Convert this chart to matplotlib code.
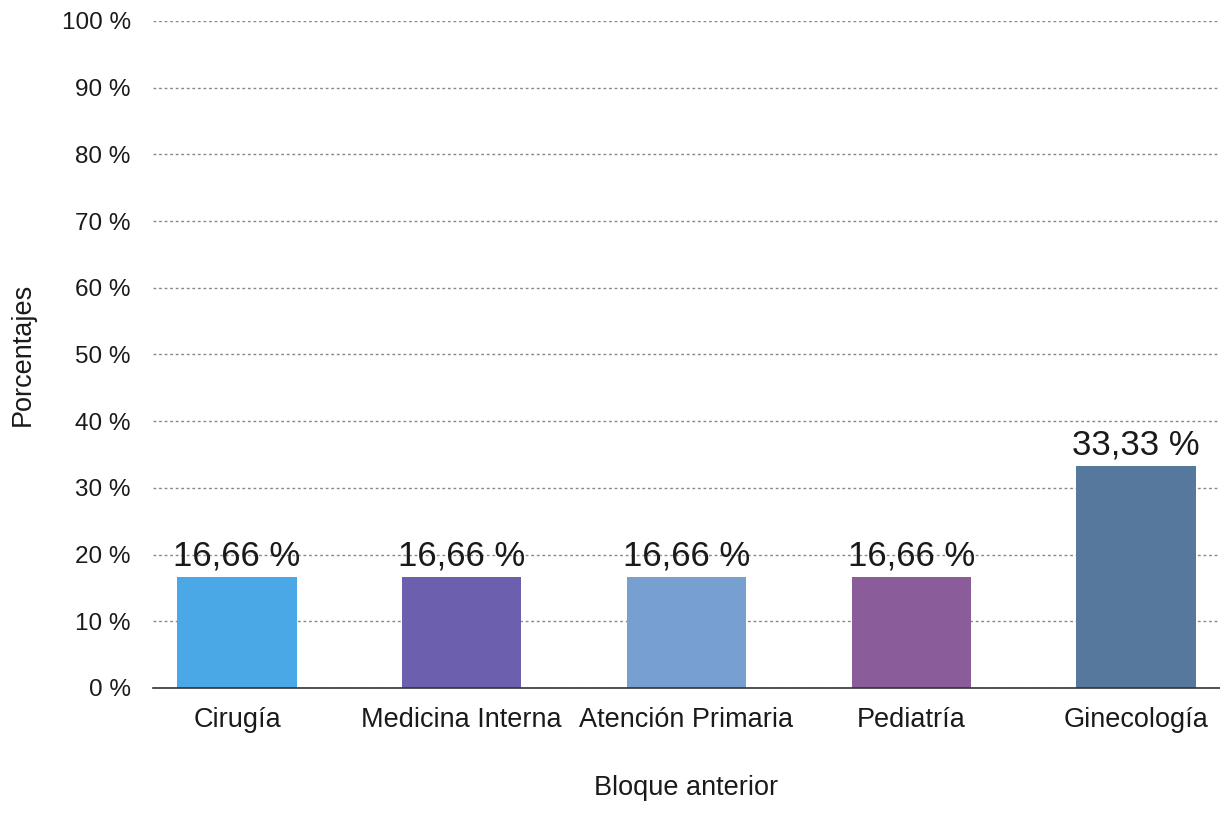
import matplotlib

matplotlib.use("Agg")

import matplotlib.pyplot as plt

categories = ["Cirugía", "Medicina Interna", "Atención Primaria", "Pediatría", "Ginecología"]
values = [16.66, 16.66, 16.66, 16.66, 33.33]
value_labels = ["16,66 %", "16,66 %", "16,66 %", "16,66 %", "33,33 %"]
colors = ["#4aa8e6", "#6c5fad", "#77a0d0", "#8a5c9a", "#55789c"]
yticks = list(range(0, 101, 10))
ytick_labels = [f"{t} %" for t in yticks]

plt.rcParams["font.family"] = ["Liberation Sans", "DejaVu Sans"]
text_color = "#1a1a1a"

fig = plt.figure(figsize=(12.2, 8.31), dpi=100)
ax = fig.add_axes([153 / 1220, 1 - 688 / 831, (1220 - 153) / 1220, (688 - 21) / 831])

x = list(range(len(categories)))
ax.bar(x, values, width=0.53, color=colors, zorder=3)

for xi, v, lab in zip(x, values, value_labels):
    ax.text(xi, v + 0.6, lab, ha="center", va="bottom", fontsize=25, color=text_color, zorder=4)

ax.set_xlim(-0.374, 4.374)
ax.set_ylim(0, 100)
ax.set_yticks(yticks)
ax.set_yticklabels(ytick_labels)
ax.set_xticks(x)
ax.set_xticklabels(categories)
ax.tick_params(axis="both", length=0, colors=text_color)
ax.tick_params(axis="y", pad=16, labelsize=17.5)
ax.tick_params(axis="x", pad=14, labelsize=19.5)

ax.grid(axis="y", linestyle=(0, (2, 2)), color="#888888", linewidth=1, zorder=0)
for side in ["top", "right", "left"]:
    ax.spines[side].set_visible(False)
ax.spines["bottom"].set_color("#333333")
ax.spines["bottom"].set_linewidth(1.2)
ax.spines["bottom"].set_zorder(5)

ax.set_xlabel("Bloque anterior", fontsize=19.5, color=text_color, labelpad=30)
ax.set_ylabel("Porcentajes", fontsize=19.5, color=text_color)
ax.yaxis.set_label_coords(-0.11, 0.5)

fig.savefig("out.png", dpi=100)
